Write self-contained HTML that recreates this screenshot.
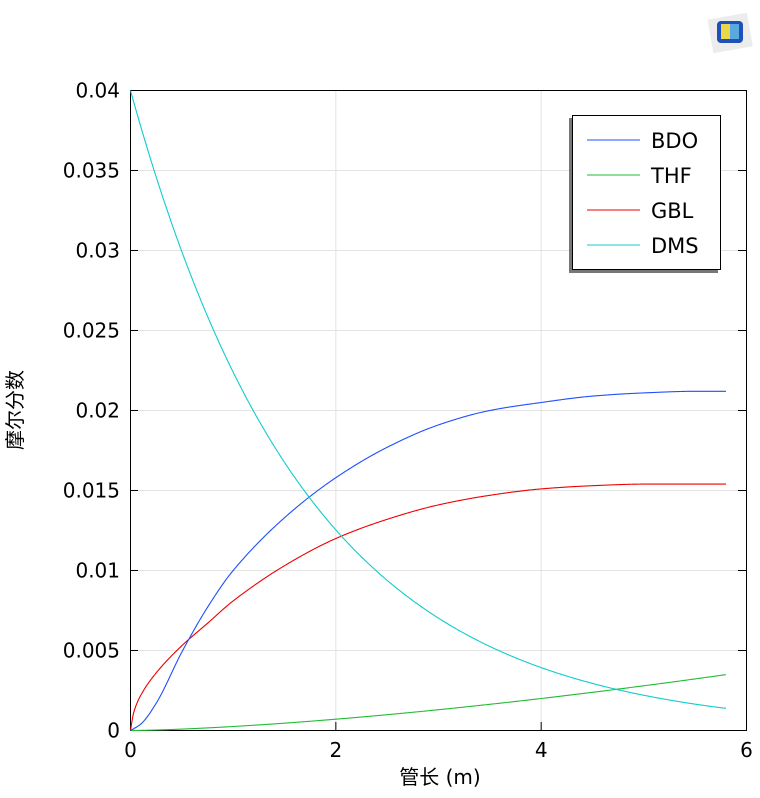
<!DOCTYPE html>
<html><head><meta charset="utf-8"><style>
body{margin:0;background:#fff;}
svg text{font-family:"DejaVu Sans","Liberation Sans","Noto Sans CJK SC",sans-serif;}
</style></head><body>
<svg id="s" width="760" height="793" xmlns="http://www.w3.org/2000/svg">
<g transform="translate(708,12)">
<rect x="2" y="4" width="40" height="34" fill="#ececec" transform="rotate(-10 22 20)"/>
<rect x="9" y="9" width="26" height="22" rx="4" fill="#1f4fb8"/>
<rect x="13" y="12" width="18" height="15" fill="#e8d84a"/>
<rect x="22" y="12" width="9" height="15" fill="#5aa8e0"/>
</g>
<g id="grid" stroke="#e3e3e3" stroke-width="1"></g>
<rect x="130.5" y="90.5" width="616" height="640" fill="none" stroke="#000"/>
<g id="ticks" stroke="#000" stroke-width="1"></g>
<g id="labels" font-size="20" fill="#000"></g>
<g id="curves" fill="none" stroke-width="1.1"></g>
<rect x="569" y="118" width="149" height="155" fill="#777"/>
<rect x="572.5" y="115.5" width="148" height="154" fill="#fff" stroke="#000"/>
<line x1="587" y1="140" x2="640" y2="140" stroke="#1f4fff"/>
<line x1="587" y1="175" x2="640" y2="175" stroke="#22bb33"/>
<line x1="587" y1="210" x2="640" y2="210" stroke="#ee0000"/>
<line x1="587" y1="245" x2="640" y2="245" stroke="#11cccc"/>
<g font-size="21" fill="#000">
<text x="651" y="148">BDO</text><text x="651" y="183">THF</text>
<text x="651" y="218">GBL</text><text x="651" y="253">DMS</text>
</g>
<text x="440" y="784" font-size="20" text-anchor="middle">管长 (m)</text>
<text transform="translate(22,410) rotate(-90)" font-size="20" text-anchor="middle">摩尔分数</text>
</svg>
<script>
var NS="http://www.w3.org/2000/svg";
function X(x){return 130.5+102.67*x;}function Y(v){return 730.5-16000*v;}
function el(p,t,a){var e=document.createElementNS(NS,t);for(var k in a)e.setAttribute(k,a[k]);p.appendChild(e);return e;}
var g=document.getElementById('grid'),tk=document.getElementById('ticks'),lb=document.getElementById('labels');
for(var i=0;i<=3;i++){var x=X(2*i);
 if(i>0&&i<3)el(g,'line',{x1:x,y1:91,x2:x,y2:730});
 el(tk,'line',{x1:x,y1:730,x2:x,y2:722});
 el(lb,'text',{x:x,y:757,'text-anchor':'middle'}).textContent=String(2*i);}
var yl=["0","0.005","0.01","0.015","0.02","0.025","0.03","0.035","0.04"];
for(var j=0;j<=8;j++){var y=Y(j*0.005);
 if(j>0&&j<8)el(g,'line',{x1:131,y1:y,x2:746,y2:y});
 el(tk,'line',{x1:130,y1:y,x2:138,y2:y});el(tk,'line',{x1:746,y1:y,x2:738,y2:y});
 el(lb,'text',{x:120,y:y+7,'text-anchor':'end'}).textContent=yl[j];}
function interp(p,x){var n=p.length;for(var i=1;i<n;i++){if(x<=p[i][0]){
 var a=p[i-1],b=p[i],h=b[0]-a[0],t=(x-a[0])/h;
 function sl(k){if(k==0)return (p[1][1]-p[0][1])/(p[1][0]-p[0][0]);if(k==n-1)return (p[k][1]-p[k-1][1])/(p[k][0]-p[k-1][0]);
  var s1=(p[k][1]-p[k-1][1])/(p[k][0]-p[k-1][0]),s2=(p[k+1][1]-p[k][1])/(p[k+1][0]-p[k][0]);if(s1*s2<=0)return 0;return 2/(1/s1+1/s2);}
 var m0=sl(i-1)*h,m1=sl(i)*h,t2=t*t,t3=t2*t;
 return (2*t3-3*t2+1)*a[1]+(t3-2*t2+t)*m0+(-2*t3+3*t2)*b[1]+(t3-t2)*m1;}}return p[n-1][1];}
var bdo=[[0,0],[0.1,0.0004],[0.25,0.0017],[0.5,0.0049],[0.75,0.0077],[1,0.0100],[1.5,0.0133],[2,0.0158],[2.5,0.0177],[3,0.0191],[3.5,0.0200],[4,0.0205],[4.5,0.0209],[5,0.0211],[5.5,0.0212],[5.8,0.0212]];
var gbl=[[0,0],[0.03,0.0011],[0.1,0.0022],[0.25,0.0036],[0.5,0.0053],[0.75,0.0067],[1,0.0081],[1.5,0.0103],[2,0.0120],[2.5,0.0132],[3,0.0141],[3.5,0.0147],[4,0.0151],[4.5,0.0153],[5,0.0154],[5.8,0.0154]];
var c=document.getElementById('curves');
function draw(f,col){var d="";for(var x=0;x<=5.8001;x+=0.01){d+=(d?"L":"M")+X(x).toFixed(2)+","+Y(f(x)).toFixed(2);}el(c,'path',{d:d,stroke:col});}
draw(function(x){return 0.00025*Math.pow(x,1.5);},"#22bb33");
draw(function(x){return interp(gbl,x);},"#ee0000");
draw(function(x){return interp(bdo,x);},"#1f4fff");
draw(function(x){return 0.04*Math.exp(-0.58*x);},"#11cccc");
</script>
</body></html>
